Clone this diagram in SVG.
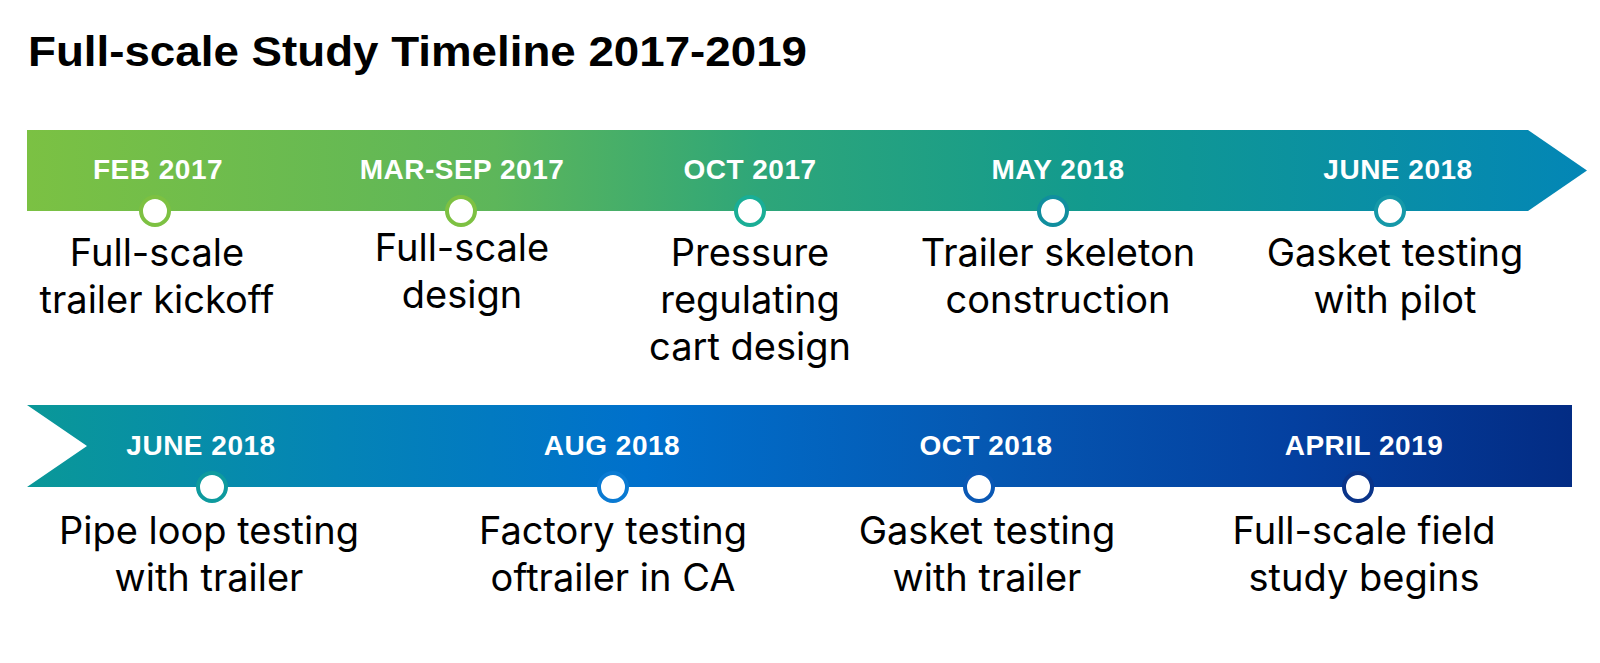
<svg xmlns="http://www.w3.org/2000/svg" width="1600" height="663" viewBox="0 0 1600 663">
<defs>
<linearGradient id="gTop" x1="27" y1="0" x2="1587" y2="0" gradientUnits="userSpaceOnUse">
<stop offset="0" stop-color="#7BC143"/>
<stop offset="0.3" stop-color="#5DB65A"/>
<stop offset="0.47" stop-color="#2EA679"/>
<stop offset="0.68" stop-color="#129A8E"/>
<stop offset="1" stop-color="#0386B6"/>
</linearGradient>
<linearGradient id="gBot" x1="27" y1="0" x2="1572" y2="0" gradientUnits="userSpaceOnUse">
<stop offset="0" stop-color="#0A9898"/>
<stop offset="0.2" stop-color="#0484B6"/>
<stop offset="0.4" stop-color="#0070CC"/>
<stop offset="0.62" stop-color="#0558B2"/>
<stop offset="0.82" stop-color="#0440A0"/>
<stop offset="1" stop-color="#032C84"/>
</linearGradient>
<style>
.title{font-family:"Liberation Sans",Arial,sans-serif;font-weight:700;font-size:42px;fill:#000}
.date{font-family:"Liberation Sans",Arial,sans-serif;font-weight:700;font-size:28px;letter-spacing:0.5px;fill:#fff;text-anchor:middle}
.desc{font-family:Inter,"Liberation Sans",sans-serif;font-weight:400;font-size:38px;fill:#000;text-anchor:middle}
.dot{fill:#fff;stroke-width:4}
</style>
</defs>
<text class="title" x="28" y="66" textLength="779" lengthAdjust="spacingAndGlyphs">Full-scale Study Timeline 2017-2019</text>
<g id="bands">
<polygon points="27,130 1528,130 1587,170.5 1528,211 27,211" fill="url(#gTop)"/>
<polygon points="27,405 1572,405 1572,487 27,487 87,446" fill="url(#gBot)"/>
</g>
<g id="n1"><text class="date" x="158" y="179">FEB 2017</text><circle class="dot" cx="155" cy="211" r="14" stroke="#7DC142"/><text class="desc" x="157" y="266">Full-scale</text><text class="desc" x="157" y="313">trailer kickoff</text></g>
<g id="n2"><text class="date" x="462" y="179">MAR-SEP 2017</text><circle class="dot" cx="461" cy="211" r="14" stroke="#7DC142"/><text class="desc" x="462" y="261">Full-scale</text><text class="desc" x="462" y="308">design</text></g>
<g id="n3"><text class="date" x="750" y="179">OCT 2017</text><circle class="dot" cx="750" cy="211" r="14" stroke="#1AAE96"/><text class="desc" x="750" y="266">Pressure</text><text class="desc" x="750" y="313">regulating</text><text class="desc" x="750" y="360">cart design</text></g>
<g id="n4"><text class="date" x="1058" y="179">MAY 2018</text><circle class="dot" cx="1053" cy="211" r="14" stroke="#108E9E"/><text class="desc" x="1058" y="266">Trailer skeleton</text><text class="desc" x="1058" y="313">construction</text></g>
<g id="n5"><text class="date" x="1398" y="179">JUNE 2018</text><circle class="dot" cx="1390" cy="211" r="14" stroke="#1598A8"/><text class="desc" x="1395" y="266">Gasket testing</text><text class="desc" x="1395" y="313">with pilot</text></g>
<g id="n6"><text class="date" x="201" y="455">JUNE 2018</text><circle class="dot" cx="212" cy="487" r="14" stroke="#0E9A9E"/><text class="desc" x="209" y="544">Pipe loop testing</text><text class="desc" x="209" y="591">with trailer</text></g>
<g id="n7"><text class="date" x="612" y="455">AUG 2018</text><circle class="dot" cx="613" cy="487" r="14" stroke="#0A7AD2"/><text class="desc" x="613" y="544">Factory testing</text><text class="desc" x="613" y="591">oftrailer in CA</text></g>
<g id="n8"><text class="date" x="986" y="455">OCT 2018</text><circle class="dot" cx="979" cy="487" r="14" stroke="#0A58B4"/><text class="desc" x="987" y="544">Gasket testing</text><text class="desc" x="987" y="591">with trailer</text></g>
<g id="n9"><text class="date" x="1364" y="455">APRIL 2019</text><circle class="dot" cx="1358" cy="487" r="14" stroke="#0A3489"/><text class="desc" x="1364" y="544">Full-scale field</text><text class="desc" x="1364" y="591">study begins</text></g>
</svg>
